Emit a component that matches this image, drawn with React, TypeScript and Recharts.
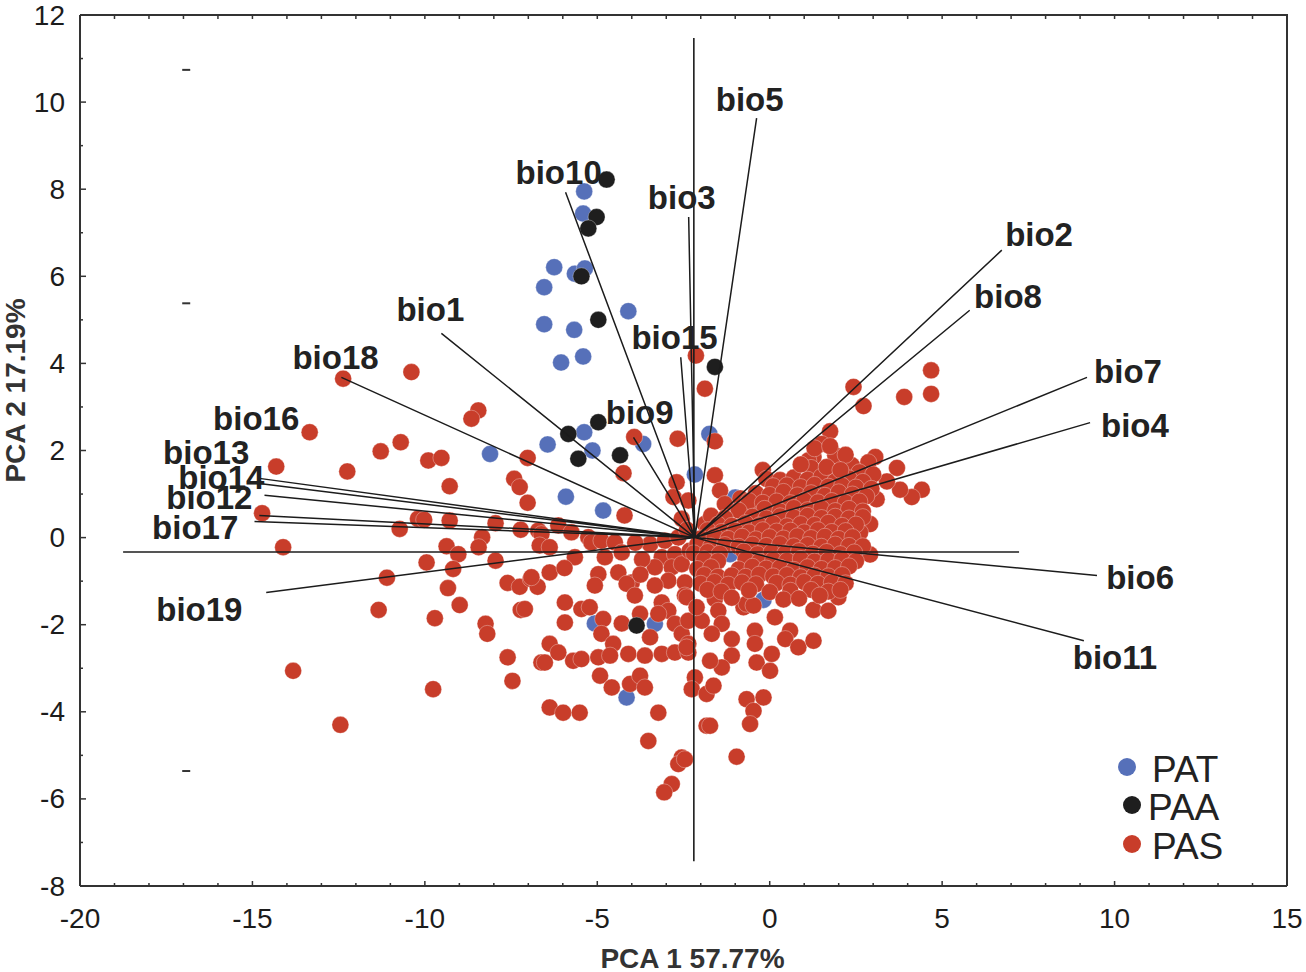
import { Legend, Scatter, ScatterChart, XAxis, YAxis } from "recharts";

type Pt = { x: number; y: number };

const toPts = (rows: number[][]): Pt[] => rows.map(([x, y]) => ({ x, y }));

// group PAT (blue)
const patRows = [
  [-5.38, 7.95], [-5.41, 7.44], [-6.25, 6.21], [-5.65, 6.06], [-5.36, 6.18],
  [-6.54, 5.75], [-4.1, 5.2], [-6.54, 4.9], [-5.67, 4.77], [-5.41, 4.16],
  [-6.05, 4.02], [-5.38, 2.42], [-6.44, 2.14], [-3.67, 2.15], [-1.75, 2.38],
  [-5.14, 2.0], [-8.11, 1.92], [-2.17, 1.45], [-5.91, 0.94], [-4.83, 0.62],
  [-1.0, 0.92], [1.07, 0.41], [-1.15, -0.38], [-0.18, -1.43], [-5.07, -1.97],
  [-3.33, -1.98], [-4.15, -3.67],
];

// group PAA (black)
const paaRows = [
  [-4.73, 8.22], [-5.02, 7.36], [-5.26, 7.1], [-5.46, 6.0], [-4.97, 5.0],
  [-1.59, 3.92], [-4.97, 2.65], [-5.84, 2.38], [-5.55, 1.81], [-4.34, 1.89],
  [-3.86, -2.02],
];

// group PAS (red)
const pasRows = [
  // left side
  [-12.37, 3.65], [-10.39, 3.8], [-8.45, 2.92], [-8.65, 2.73], [-13.34, 2.42],
  [-10.7, 2.19], [-11.28, 1.98], [-9.9, 1.77], [-9.52, 1.83], [-7.02, 1.83],
  [-14.31, 1.63], [-12.25, 1.52], [-7.41, 1.35], [-7.25, 1.16], [-9.28, 1.18],
  [-7.02, 0.8], [-14.72, 0.56], [-10.2, 0.43], [-10.02, 0.41], [-9.28, 0.39],
  [-7.95, 0.33], [-10.73, 0.2], [-7.22, 0.18], [-6.71, 0.16], [-14.11, -0.22],
  [-9.37, -0.2], [-9.03, -0.38], [-8.34, 0.01], [-8.44, -0.22], [-9.95, -0.57],
  [-9.18, -0.72], [-7.95, -0.53], [-11.1, -0.92], [-9.33, -1.16], [-7.6, -1.04],
  [-7.25, -1.13], [-6.93, -0.95], [-6.73, -1.13], [-11.34, -1.66], [-8.99, -1.55],
  [-9.71, -1.85], [-7.22, -1.66], [-8.24, -1.98], [-8.19, -2.21], [-7.6, -2.75],
  [-6.62, -2.87], [-13.82, -3.06], [-7.46, -3.29], [-9.76, -3.48], [-12.45, -4.3],
  // upper centre
  [-2.14, 4.18], [-1.88, 3.42], [-3.93, 2.31], [-2.67, 2.27], [-1.59, 2.21],
  [-4.24, 1.48], [-2.7, 1.27], [-2.79, 0.93], [-2.36, 0.85], [-4.21, 0.51],
  [-2.55, 0.43], [-1.88, 0.31],
  // centre-left cluster
  [-6.62, 0.08], [-6.13, 0.28], [-5.75, 0.12], [-5.26, 0.01], [-6.67, -0.18],
  [-6.38, -0.22], [-5.17, -0.11], [-4.88, -0.07], [-4.49, -0.11], [-3.47, -0.15],
  [-3.04, -0.07], [-2.65, 0.0], [-5.65, -0.45], [-4.78, -0.45], [-4.29, -0.34],
  [-3.13, -0.45], [-2.75, -0.38], [-3.33, -0.68], [-2.84, -0.68], [-2.55, -0.61],
  [-6.38, -0.8], [-6.91, -0.91], [-4.97, -0.84], [-4.39, -0.8], [-4.0, -1.03],
  [-2.94, -0.99], [-2.46, -1.03], [-5.07, -1.1], [-3.7, -0.5], [-3.9, -0.12],
  [-2.32, -0.3], [-2.4, 0.18], [-5.95, -0.7], [-3.75, -0.85],
  // lower centre
  [-4.15, -1.06], [-3.33, -1.1], [-2.46, -1.33], [-3.91, -1.33], [-5.94, -1.49],
  [-5.46, -1.64], [-5.22, -1.6], [-7.1, -1.64], [-3.13, -1.49], [-2.94, -1.68],
  [-5.94, -1.95], [-4.83, -1.87], [-4.29, -1.97], [-3.76, -1.75], [-3.23, -1.75],
  [-2.75, -1.98], [-2.55, -2.21], [-2.36, -2.44], [-4.88, -2.21], [-4.54, -2.44],
  [-3.47, -2.29], [-6.38, -2.44], [-6.13, -2.64], [-6.52, -2.87], [-5.7, -2.83],
  [-5.46, -2.79], [-4.97, -2.75], [-4.63, -2.71], [-4.1, -2.67], [-3.62, -2.71],
  [-3.13, -2.67], [-2.75, -2.64], [-2.36, -2.64], [-4.92, -3.17], [-4.58, -3.44],
  [-4.05, -3.36], [-3.76, -3.17], [-3.62, -3.44], [-2.17, -3.21], [-2.26, -3.48],
  [-6.38, -3.9], [-5.99, -4.02], [-5.51, -4.02], [-3.23, -4.02], [-1.83, -4.32],
  [-3.52, -4.67], [-2.55, -5.05], [-2.65, -5.2], [-2.84, -5.66], [-3.06, -5.85],
  // lower right
  [2.91, -0.39], [1.27, -1.66], [1.7, -1.68], [1.99, -1.37], [0.15, -1.83],
  [-0.76, -1.6], [-0.43, -2.14], [0.59, -2.14], [0.45, -2.33], [0.83, -2.52],
  [1.27, -2.37], [-0.43, -2.44], [0.06, -2.67], [-0.38, -2.87], [0.01, -3.06],
  [-1.1, -2.33], [-1.1, -2.71], [-1.39, -2.98], [-1.73, -2.83], [-1.83, -3.59],
  [-1.63, -3.4], [-0.67, -3.71], [-0.18, -3.67], [-0.47, -3.98], [-0.57, -4.28],
  [-1.73, -4.32], [-0.96, -5.03], [-2.46, -5.09], [-2.41, -1.37], [-2.36, -1.91],
  [-2.41, -2.52], [-1.59, -1.41], [-1.49, -1.68], [-1.39, -1.98], [-1.68, -2.21],
  [-1.97, -1.91], [-2.12, -1.6], [-0.67, -1.52], [-0.47, -1.56],
  // upper right
  [4.68, 3.84], [4.68, 3.3], [3.9, 3.23], [2.43, 3.46], [2.72, 3.02],
  [1.75, 2.44], [3.06, 1.85], [3.69, 1.6], [4.41, 1.1], [4.12, 0.93],
  [3.78, 1.1], [3.4, 1.29], [2.86, 1.73], [2.38, 1.66], [1.9, 1.89],
  [1.27, 1.85], [1.51, 2.15], [3.1, 0.88], [2.91, 0.31], [2.62, 0.12],
  [-0.62, 0.74], [-1.59, 1.43], [-1.44, 1.08], [-1.3, 0.77], [-0.52, 0.77],
  [-0.85, 0.9], [-0.2, 1.55], [0.15, 1.24], [1.12, 1.77],
  [1.3, 2.05], [1.75, 2.1], [2.2, 1.9], [1.2, 1.6], [2.6, 1.5], [3.0, 1.45],
  // dense blob right of the origin
  [-0.1, 1.35], [0.3, 1.32], [0.7, 1.38], [1.1, 1.33], [1.5, 1.4],
  [1.9, 1.3], [2.3, 1.36], [2.7, 1.28], [0.9, 1.68], [1.65, 1.62], [2.05, 1.55],
  [0.1, 1.18], [0.5, 1.2], [0.9, 1.16], [1.3, 1.21], [1.7, 1.17],
  [2.1, 1.19], [2.5, 1.15], [2.95, 1.12],
  [-0.4, 1.02], [0.0, 0.98], [0.4, 1.05], [0.8, 0.97], [1.2, 1.02],
  [1.6, 0.96], [2.0, 1.04], [2.4, 0.99], [2.8, 0.95],
  [-0.6, 0.84], [-0.2, 0.8], [0.2, 0.83], [0.6, 0.79], [1.0, 0.85],
  [1.4, 0.81], [1.8, 0.84], [2.2, 0.8], [2.6, 0.83],
  [-0.9, 0.62], [-0.15, 0.66], [0.3, 0.6], [0.7, 0.68], [1.1, 0.63],
  [1.5, 0.67], [1.9, 0.61], [2.3, 0.66], [2.7, 0.6],
  [-1.7, 0.5], [-1.3, 0.45], [-0.5, 0.48], [-0.1, 0.44], [0.3, 0.49],
  [0.7, 0.46], [1.1, 0.5], [1.5, 0.45], [1.9, 0.48], [2.3, 0.44], [2.7, 0.47],
  [-1.5, 0.3], [-1.1, 0.27], [-0.7, 0.33], [-0.3, 0.28], [0.1, 0.32],
  [0.5, 0.26], [0.9, 0.31], [1.3, 0.29], [1.7, 0.34], [2.1, 0.27], [2.5, 0.3],
  [-1.8, 0.17], [-1.4, 0.13], [-1.0, 0.16], [-0.6, 0.12], [-0.2, 0.17],
  [0.2, 0.14], [0.6, 0.16], [1.0, 0.12], [1.4, 0.17], [1.8, 0.13], [2.2, 0.15],
  [-2.0, -0.02], [-1.6, 0.03], [-1.2, -0.03], [-0.8, 0.02], [-0.4, -0.04],
  [0.0, 0.01], [0.4, -0.02], [0.8, 0.03], [1.2, -0.01], [1.6, 0.02],
  [2.0, -0.03], [2.4, 0.01],
  [-2.1, -0.16], [-1.7, -0.2], [-1.3, -0.17], [-0.9, -0.21], [-0.5, -0.16],
  [-0.1, -0.19], [0.3, -0.15], [0.7, -0.2], [1.1, -0.17], [1.5, -0.21],
  [1.9, -0.16], [2.3, -0.19], [2.7, -0.2],
  [-2.2, -0.36], [-1.8, -0.33], [-1.45, -0.37], [-0.75, -0.32], [-0.35, -0.38],
  [0.05, -0.34], [0.45, -0.36], [0.85, -0.31], [1.25, -0.37], [1.65, -0.33],
  [2.05, -0.38], [2.45, -0.34],
  [-1.9, -0.5], [-1.5, -0.54], [-0.7, -0.5], [-0.3, -0.55], [0.1, -0.51],
  [0.5, -0.53], [0.9, -0.49], [1.3, -0.55], [1.7, -0.52], [2.1, -0.5], [2.5, -0.54],
  [-2.1, -0.72], [-1.7, -0.68], [-0.9, -0.73], [-0.5, -0.67], [-0.1, -0.71],
  [0.3, -0.69], [0.7, -0.74], [1.1, -0.68], [1.5, -0.72], [1.9, -0.7], [2.3, -0.66],
  [-1.9, -0.86], [-1.5, -0.9], [-1.1, -0.87], [-0.7, -0.9], [-0.3, -0.85],
  [0.1, -0.89], [0.5, -0.86], [0.9, -0.91], [1.3, -0.87], [1.7, -0.89], [2.1, -0.86],
  [-2.0, -1.06], [-1.6, -1.02], [-1.2, -1.08], [-0.8, -1.03], [-0.4, -1.07],
  [0.2, -1.04], [0.6, -1.08], [1.0, -1.02], [1.4, -1.06], [1.8, -1.03], [2.2, -1.05],
  [-1.8, -1.2], [-1.4, -1.24], [-0.6, -1.21], [0.0, -1.25], [0.6, -1.22],
  [1.2, -1.2], [1.7, -1.24], [2.05, -1.2],
  [-1.1, -1.38], [0.4, -1.42], [0.85, -1.4], [1.45, -1.33],
];

// PCA loading vectors, all drawn from the same origin
const vectorOrigin = { x: -2.17, y: 0 };
const vectorNames = [
  "bio5", "bio3", "bio10", "bio15", "bio9", "bio1", "bio18", "bio13", "bio14",
  "bio12", "bio16", "bio17", "bio19", "bio2", "bio8", "bio7", "bio4", "bio6", "bio11",
];
const vectorEnds = [
  [-0.38, 9.63], [-2.35, 7.36], [-5.92, 7.93], [-2.58, 4.14], [-3.95, 2.3],
  [-9.52, 4.69], [-12.42, 3.68], [-14.8, 1.36], [-14.8, 1.24], [-14.65, 0.97],
  [-14.8, 0.51], [-14.94, 0.37], [-14.6, -1.26], [6.73, 6.6], [5.8, 5.22],
  [9.2, 3.68], [9.29, 2.64], [9.49, -0.87], [9.11, -2.37],
];
const labelSpots = [
  [-0.58, 10.05], [-2.55, 7.82], [-6.12, 8.39], [-2.76, 4.6], [-3.77, 2.87],
  [-9.84, 5.24], [-12.59, 4.14], [-16.34, 1.95], [-15.9, 1.38], [-16.25, 0.92],
  [-14.89, 2.74], [-16.66, 0.23], [-16.54, -1.66], [7.81, 6.97], [6.91, 5.54],
  [10.39, 3.82], [10.59, 2.57], [10.74, -0.92], [10.01, -2.76],
];

// crossing reference axes
const hAxisLine = toPts([[-18.75, -0.33], [7.23, -0.33]]);
const vAxisLine = toPts([[-2.2, 11.47], [-2.2, -7.43]]);
const frameTopRight = toPts([[-20, 12], [15, 12], [15, -8]]);
const strayMarks = toPts([[-16.92, 10.74], [-16.92, 5.38], [-16.92, -5.36]]);

const xTicks = Array.from({ length: 36 }, (_, i) => i - 20);
const yTicks = Array.from({ length: 21 }, (_, i) => i - 8);

const groups = [
  { name: "PAT", color: "#5670b9" },
  { name: "PAA", color: "#1e1e1e" },
  { name: "PAS", color: "#c83d2a" },
];

const W = 1306;
const H = 972;
const M = { top: 15, right: 19, left: 20, bottom: 26 };
const FONT = "'Liberation Sans', Arial, sans-serif";
const INK = "#1c1c1c";

const starData: Pt[] = vectorEnds.flatMap(([x, y]) => [vectorOrigin, { x, y }]);
const labelData = labelSpots.map(([x, y], i) => ({ x, y, name: vectorNames[i] }));

const dot = (fill: string) => (p: any) =>
  (
    <circle
      cx={p.cx}
      cy={p.cy}
      r={8.5}
      fill={fill}
      stroke="#ffffff"
      strokeOpacity={0.4}
      strokeWidth={0.8}
    />
  );

const noDot = () => <g />;

const XTick = (p: any) => {
  const v = p.payload.value;
  const major = v % 5 === 0;
  return (
    <g>
      <line x1={p.x} x2={p.x} y1={p.y} y2={p.y - (major ? 5 : 3)} stroke="#333" strokeWidth={1.5} />
      <line x1={p.x} x2={p.x} y1={M.top} y2={M.top + 4} stroke="#333" strokeWidth={1.5} />
      {major && (
        <text x={p.x} y={p.y + 32} textAnchor="middle" dominantBaseline="central" fontSize={28} fill={INK} fontFamily={FONT}>
          {v}
        </text>
      )}
    </g>
  );
};

const YTick = (p: any) => {
  const v = p.payload.value;
  const major = v % 2 === 0;
  return (
    <g>
      <line x1={p.x} x2={p.x + (major ? 6 : 3)} y1={p.y} y2={p.y} stroke="#333" strokeWidth={1.5} />
      {major && (
        <text x={p.x - 15} y={p.y} textAnchor="end" dominantBaseline="central" fontSize={28} fill={INK} fontFamily={FONT}>
          {v}
        </text>
      )}
    </g>
  );
};

const LegendBox = () => {
  const rows = [
    { dx: 27, tx: 52, cy: 27 },
    { dx: 32, tx: 48, cy: 65 },
    { dx: 32, tx: 52, cy: 104 },
  ];
  return (
    <svg width={200} height={130} style={{ display: "block" }}>
      {groups.map((g, i) => (
        <g key={g.name}>
          <circle cx={rows[i].dx} cy={rows[i].cy} r={9} fill={g.color} />
          <text x={rows[i].tx} y={rows[i].cy + 2} dominantBaseline="central" fontSize={37} fill="#222" fontFamily={FONT}>
            {g.name}
          </text>
        </g>
      ))}
    </svg>
  );
};

export default function App() {
  return (
    <div style={{ position: "absolute", left: 0, top: 0, width: W, height: H, background: "#fff" }}>
      <ScatterChart width={W} height={H} margin={M} style={{ fontFamily: FONT }}>
        <XAxis
          type="number"
          dataKey="x"
          domain={[-20, 15]}
          ticks={xTicks}
          interval={0}
          height={60}
          tickSize={0}
          tickMargin={0}
          tick={<XTick />}
          axisLine={{ stroke: "#333", strokeWidth: 2 }}
          label={{
            content: (p: any) => {
              const vb = p.viewBox ?? { x: 80, y: 886, width: 1207, height: 60 };
              return (
                <text x={vb.x + vb.width / 2 + 9} y={vb.y + 72} textAnchor="middle" dominantBaseline="central" fontSize={28} fontWeight="bold" fill="#333" fontFamily={FONT}>
                  PCA 1 57.77%
                </text>
              );
            },
          }}
        />
        <YAxis
          type="number"
          dataKey="y"
          domain={[-8, 12]}
          ticks={yTicks}
          interval={0}
          width={60}
          tickSize={0}
          tickMargin={0}
          tick={<YTick />}
          axisLine={{ stroke: "#333", strokeWidth: 2 }}
          label={{
            content: (p: any) => {
              const vb = p.viewBox ?? { x: 20, y: 15, width: 60, height: 871 };
              const cx = vb.x - 5;
              const cy = vb.y + vb.height / 2 - 60;
              return (
                <text x={cx} y={cy} transform={`rotate(-90 ${cx} ${cy})`} textAnchor="middle" dominantBaseline="central" fontSize={28} fontWeight="bold" fill="#333" fontFamily={FONT}>
                  PCA 2 17.19%
                </text>
              );
            },
          }}
        />
        <Scatter data={frameTopRight} line={{ stroke: "#333", strokeWidth: 2 }} lineType="joint" shape={noDot} isAnimationActive={false} />
        <Scatter data={strayMarks} shape={(p: any) => <line x1={p.cx - 4} x2={p.cx + 4} y1={p.cy} y2={p.cy} stroke="#333" strokeWidth={2} />} isAnimationActive={false} />
        <Scatter name="PAT" data={toPts(patRows)} shape={dot(groups[0].color)} isAnimationActive={false} />
        <Scatter name="PAS" data={toPts(pasRows)} shape={dot(groups[2].color)} isAnimationActive={false} />
        <Scatter name="PAA" data={toPts(paaRows)} shape={dot(groups[1].color)} isAnimationActive={false} />
        <Scatter data={hAxisLine} line={{ stroke: INK, strokeWidth: 1.6 }} lineType="joint" shape={noDot} isAnimationActive={false} />
        <Scatter data={vAxisLine} line={{ stroke: INK, strokeWidth: 1.6 }} lineType="joint" shape={noDot} isAnimationActive={false} />
        <Scatter data={starData} line={{ stroke: INK, strokeWidth: 1.5 }} lineType="joint" shape={noDot} isAnimationActive={false} />
        <Scatter
          data={labelData}
          isAnimationActive={false}
          shape={(p: any) => (
            <text x={p.cx} y={p.cy} textAnchor="middle" dominantBaseline="central" fontSize={33} fontWeight="bold" fill="#222" fontFamily={FONT}>
              {p.payload?.name ?? p.name}
            </text>
          )}
        />
        <Legend
          layout="vertical"
          align="center"
          verticalAlign="middle"
          content={<LegendBox />}
          wrapperStyle={{ position: "absolute", left: 1100, top: 740, width: 200, height: 130 }}
        />
      </ScatterChart>
    </div>
  );
}
